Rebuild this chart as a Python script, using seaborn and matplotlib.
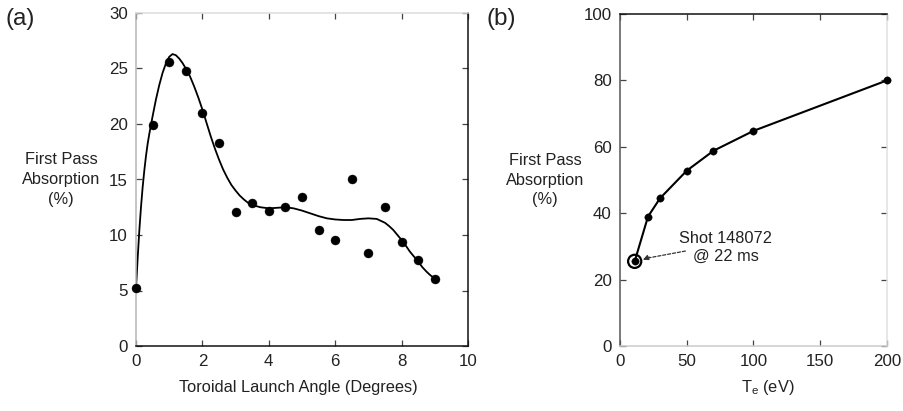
import numpy as np
import pandas as pd
import matplotlib
matplotlib.use("Agg")
import matplotlib.pyplot as plt
import seaborn as sns

# Panel (a): first pass absorption vs toroidal launch angle
angle_deg = [0, 0.5, 1, 1.5, 2, 2.5, 3, 3.5, 4, 4.5, 5, 5.5, 6, 6.5, 7, 7.5, 8, 8.5, 9]
absorption_a = [5.2, 19.9, 25.6, 24.8, 21.0, 18.3, 12.1, 12.9, 12.2, 12.5, 13.45,
                10.45, 9.55, 15.05, 8.4, 12.5, 9.4, 7.75, 6.05]

# Smooth fit curve through the measurements
fit_angle = [0, 0.05, 0.1, 0.15, 0.2, 0.25, 0.3, 0.35, 0.4, 0.5, 0.6, 0.7, 0.8, 0.9,
             1.0, 1.1, 1.2, 1.3, 1.4, 1.5, 1.625, 1.75, 1.875, 2.0, 2.125, 2.25,
             2.375, 2.5, 2.625, 2.75, 2.875, 3.0, 3.125, 3.25, 3.375, 3.5, 3.75,
             4.0, 4.25, 4.5, 4.75, 5.0, 5.25, 5.5, 5.75, 6.0, 6.25, 6.5, 6.75,
             7.0, 7.25, 7.5, 7.625, 7.75, 7.875, 8.0, 8.125, 8.25, 8.375, 8.5,
             8.625, 8.75, 8.875, 9.0]
fit_absorption = [5.2, 7.9, 10.4, 12.5, 14.3, 15.8, 17.1, 18.2, 19.1, 20.7, 22.2,
                  23.5, 24.6, 25.45, 26.05, 26.3, 26.2, 25.9, 25.5, 25.0, 24.3,
                  23.4, 22.4, 21.3, 20.1, 18.9, 17.8, 16.8, 15.9, 15.15, 14.5,
                  14.0, 13.55, 13.2, 12.9, 12.7, 12.5, 12.4, 12.45, 12.5, 12.4,
                  12.2, 11.95, 11.7, 11.5, 11.4, 11.35, 11.35, 11.45, 11.5, 11.45,
                  11.1, 10.8, 10.45, 10.0, 9.55, 9.05, 8.5, 8.05, 7.6, 7.1, 6.7,
                  6.35, 6.1]

# Panel (b): first pass absorption vs electron temperature
te_ev = [11, 21, 30, 50, 70, 100, 200]
absorption_b = [25.5, 39.0, 44.5, 52.8, 58.8, 64.8, 80.0]

a_xticks = [0, 2, 4, 6, 8, 10]
a_yticks = [0, 5, 10, 15, 20, 25, 30]
b_xticks = [0, 50, 100, 150, 200]
b_yticks = [0, 20, 40, 60, 80, 100]

sns.set_theme(style="ticks")
plt.rcParams["font.family"] = ["Liberation Sans", "DejaVu Sans"]
plt.rcParams["mathtext.fontset"] = "custom"
plt.rcParams["mathtext.rm"] = "Liberation Sans"
plt.rcParams["mathtext.it"] = "Liberation Sans"

TXT = "#222222"
FS = 11.8
TFS = 12.2

fig = plt.figure(figsize=(9.04, 4.11), dpi=100)
ax_a = fig.add_axes([136 / 904, 65 / 411, 332 / 904, 333 / 411])
ax_b = fig.add_axes([620 / 904, 65 / 411, 267 / 904, 332 / 411])

df_a = pd.DataFrame({"angle": angle_deg, "absorption": absorption_a})
df_fit = pd.DataFrame({"angle": fit_angle, "absorption": fit_absorption})
df_b = pd.DataFrame({"te": te_ev, "absorption": absorption_b})

sns.lineplot(data=df_fit, x="angle", y="absorption", ax=ax_a, color="black",
             lw=1.3, sort=False, estimator=None, zorder=2)
sns.scatterplot(data=df_a, x="angle", y="absorption", ax=ax_a, color="black",
                s=42, edgecolor="black", linewidth=0.3, zorder=3, clip_on=False)

sns.lineplot(data=df_b, x="te", y="absorption", ax=ax_b, color="black",
             lw=1.5, sort=False, estimator=None, zorder=2)
sns.scatterplot(data=df_b, x="te", y="absorption", ax=ax_b, color="black",
                s=28, edgecolor="black", linewidth=0.3, zorder=3, clip_on=False)
# ring around the highlighted shot
ax_b.scatter([te_ev[0]], [absorption_b[0]], s=90, facecolor="none",
             edgecolor="black", linewidth=1.6, zorder=4)

ax_b.text(79, 29.6, "Shot 148072\n@ 22 ms", ha="center", va="center",
          fontsize=FS, color=TXT, linespacing=1.25)
ax_b.annotate("", xy=(19.5, 26.4), xytext=(49, 28.6),
              arrowprops=dict(arrowstyle="-", ls=(0, (2.5, 1.5)), lw=0.9,
                              color="#333333", shrinkA=0, shrinkB=0))
ax_b.annotate("", xy=(17.2, 26.0), xytext=(22, 26.8),
              arrowprops=dict(arrowstyle="-|>", lw=0.8, color="#333333",
                              mutation_scale=8, shrinkA=0, shrinkB=0))

ax_a.set_xlim(0, 10)
ax_a.set_ylim(0, 30)
ax_a.set_xticks(a_xticks)
ax_a.set_yticks(a_yticks)
ax_b.set_xlim(0, 200)
ax_b.set_ylim(0, 100)
ax_b.set_xticks(b_xticks)
ax_b.set_yticks(b_yticks)

for ax in (ax_a, ax_b):
    ax.tick_params(direction="in", length=4, width=0.9, color="#444444",
                   top=True, right=True, labelsize=TFS, labelcolor=TXT, pad=6)
    ax.set_facecolor("white")

ax_a.spines["left"].set_color("#b5b5b5")
ax_a.spines["bottom"].set_color("#111111")
ax_a.spines["top"].set_color("#dddddd")
ax_a.spines["right"].set_color("#111111")
ax_b.spines["left"].set_color("#555555")
ax_b.spines["bottom"].set_color("#cccccc")
ax_b.spines["top"].set_color("#111111")
ax_b.spines["right"].set_color("#e0e0e0")
for ax in (ax_a, ax_b):
    for sp in ax.spines.values():
        sp.set_linewidth(1.1)

ylab = "First Pass\nAbsorption\n(%)"
ax_a.set_ylabel(ylab, rotation=0, ha="center", va="center", fontsize=FS,
                color=TXT, linespacing=1.38)
ax_a.yaxis.set_label_coords(-0.226, 0.5)
ax_b.set_ylabel(ylab, rotation=0, ha="center", va="center", fontsize=FS,
                color=TXT, linespacing=1.38)
ax_b.yaxis.set_label_coords(-0.281, 0.5)

ax_a.set_xlabel("Toroidal Launch Angle (Degrees)", fontsize=FS, color=TXT,
                va="center")
ax_a.xaxis.set_label_coords(0.488, -0.126)
ax_b.set_xlabel(r"T$_{\mathregular{e}}$ (eV)", fontsize=FS, color=TXT,
                va="center")
ax_b.xaxis.set_label_coords(0.555, -0.126)

fig.text(6 / 904, 1 - 19 / 411, "(a)", fontsize=17.5, color=TXT, va="center")
fig.text(487 / 904, 1 - 19 / 411, "(b)", fontsize=17.5, color=TXT, va="center")

fig.savefig("out.png", dpi=100, facecolor="white")
